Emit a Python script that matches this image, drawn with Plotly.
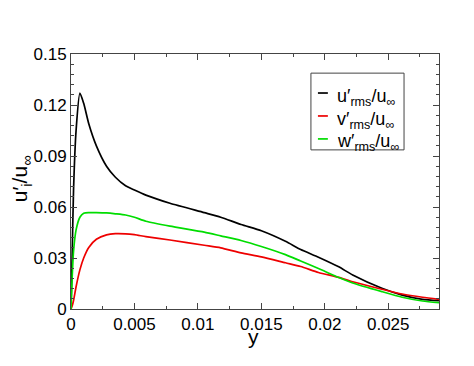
import plotly.graph_objects as go

y_pos = [0, 0.0001, 0.0002, 0.0004, 0.0007, 0.001, 0.0014, 0.002, 0.0028, 0.0035, 0.0043,
         0.005, 0.0059, 0.0078, 0.0105, 0.0118, 0.0134, 0.015, 0.0169, 0.0181, 0.0195,
         0.0211, 0.0222, 0.0245, 0.0261, 0.0277, 0.029]
u_rms = [0, 0.035, 0.07, 0.105, 0.127, 0.121, 0.109, 0.096, 0.084, 0.0775, 0.0725,
         0.0700, 0.0670, 0.0622, 0.0567, 0.0540, 0.0497, 0.0460, 0.0398, 0.0350, 0.0305,
         0.0248, 0.0200, 0.0122, 0.0082, 0.0057, 0.0049]
v_rms = [0, 0.002, 0.005, 0.0131, 0.023, 0.030, 0.0362, 0.041, 0.0436, 0.0443, 0.0442,
         0.0437, 0.0426, 0.0406, 0.0375, 0.0360, 0.0330, 0.0307, 0.0272, 0.0250, 0.0215,
         0.0186, 0.0160, 0.0116, 0.0088, 0.0069, 0.0057]
w_rms = [0, 0.02, 0.034, 0.0465, 0.054, 0.0563, 0.0567, 0.0567, 0.0565, 0.056, 0.0553,
         0.054, 0.0516, 0.0487, 0.0452, 0.0430, 0.0403, 0.0368, 0.0320, 0.0282, 0.0238,
         0.0185, 0.0153, 0.0102, 0.0069, 0.0047, 0.0037]

x_ticks = [0, 0.005, 0.01, 0.015, 0.02, 0.025]
x_ticktext = ["0", "0.005", "0.01", "0.015", "0.02", "0.025"]
y_ticks = [0, 0.03, 0.06, 0.09, 0.12, 0.15]
y_ticktext = ["0", "0.03", "0.06", "0.09", "0.12", "0.15"]

names = ["u′<sub>rms</sub>/u<sub>∞</sub>", "v′<sub>rms</sub>/u<sub>∞</sub>", "w′<sub>rms</sub>/u<sub>∞</sub>"]
colors = ["#000000", "#ee0000", "#00dd00"]
series = [u_rms, v_rms, w_rms]
x_title = "y"
y_title = "u′<sub>i</sub>/u<sub>∞</sub>"

font = "Liberation Sans, Arial, sans-serif"

fig = go.Figure()
for nm, c, s in zip(names, colors, series):
    fig.add_trace(go.Scatter(x=y_pos, y=s, mode="lines", name=nm, showlegend=False,
                             line=dict(color=c, width=1.7, shape="spline", smoothing=0.6)))

# manual legend (box, sample lines, labels) in paper coordinates
box = dict(x0=0.652, x1=0.905, y0=0.624, y1=0.925)
row_y = [0.847, 0.757, 0.667]
fig.add_shape(type="rect", xref="paper", yref="paper", line=dict(color="#444", width=1),
              fillcolor="white", layer="above", **box)
for ry, nm, c in zip(row_y, names, colors):
    fig.add_shape(type="line", xref="paper", yref="paper", x0=0.671, x1=0.698, y0=ry, y1=ry,
                  line=dict(color=c, width=1.7), layer="above")
    fig.add_annotation(xref="paper", yref="paper", x=0.718, y=ry - 0.016, text=nm,
                       showarrow=False, xanchor="left", yanchor="middle",
                       font=dict(family=font, size=18, color="black"))

# axis titles
fig.add_annotation(xref="paper", yref="paper", x=0.495, y=-0.108, text=x_title,
                   showarrow=False, xanchor="center", yanchor="middle",
                   font=dict(family=font, size=21, color="black"))
fig.add_annotation(xref="paper", yref="paper", x=-0.135, y=0.51, text=y_title,
                   showarrow=False, xanchor="center", yanchor="middle", textangle=-90,
                   font=dict(family=font, size=21, color="black"))

axis_common = dict(showline=True, linecolor="#444", linewidth=1, mirror="ticks",
                   ticks="inside", ticklen=6, tickcolor="#444", showgrid=False, zeroline=False,
                   automargin=False,
                   tickfont=dict(family=font, size=17, color="black"))

# page body has an 8px default margin, so figure is 8px smaller and margins shifted
fig.update_layout(
    width=466, height=358,
    margin=dict(l=63, r=35, t=46, b=57),
    paper_bgcolor="white", plot_bgcolor="white",
    font=dict(family=font, color="black"),
    xaxis=dict(range=[0, 0.029], tickvals=x_ticks, ticktext=x_ticktext,
               minor=dict(dtick=0.0025, ticks="inside", ticklen=3, tickcolor="#444"),
               **axis_common),
    yaxis=dict(range=[0, 0.15], tickvals=y_ticks, ticktext=y_ticktext,
               minor=dict(dtick=0.006, ticks="inside", ticklen=3, tickcolor="#444"),
               **axis_common),
    showlegend=False,
)

fig.write_html("out.html")
